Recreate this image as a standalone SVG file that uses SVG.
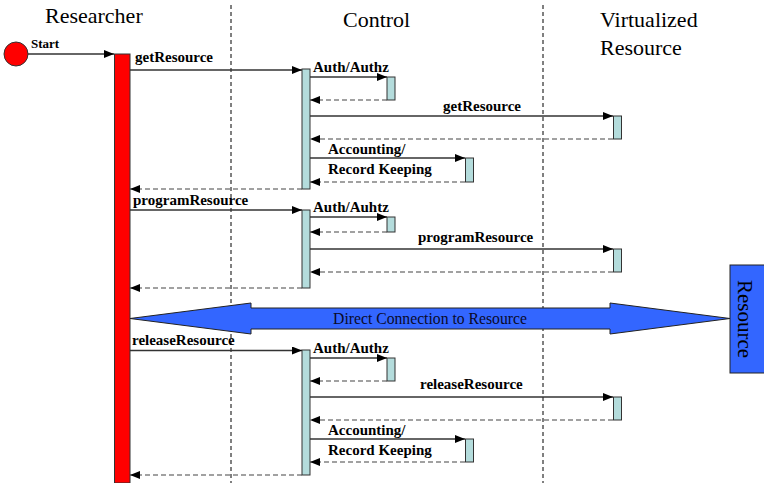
<svg xmlns="http://www.w3.org/2000/svg" width="764" height="483" viewBox="0 0 764 483">
<style>
.title{font-family:"Liberation Serif","Times New Roman",serif;font-size:22px;fill:#000}
.lbl{font-family:"Liberation Serif","Times New Roman",serif;font-size:15px;font-weight:bold;fill:#000}
.life{stroke:#000;stroke-width:1;stroke-dasharray:4,3;fill:none}
.call{stroke:#333;stroke-width:1.3;fill:none;marker-end:url(#ah)}
.ret{stroke:#444;stroke-width:1.2;stroke-dasharray:5,3;fill:none;marker-end:url(#ah)}
.act{fill:#b4dcdc;stroke:#333;stroke-width:1}
</style>
<defs>
<marker id="ah" viewBox="0 0 10 8" refX="10" refY="4" markerWidth="10" markerHeight="8" markerUnits="userSpaceOnUse" orient="auto">
<path d="M0,0 L10,4 L0,8 Z" fill="#000"/>
</marker>
</defs>
<rect width="764" height="483" fill="#fff"/>
<g id="lifelines">
<line class="life" x1="231" y1="5" x2="231" y2="483"/>
<line class="life" x1="543" y1="5" x2="543" y2="483"/>
</g>
<g id="researcher">
<text class="title" x="45" y="23">Researcher</text>
<rect x="114.5" y="54" width="15.5" height="429" fill="#ff0000" stroke="#333" stroke-width="1"/>
</g>
<g id="control">
<text class="title" x="343" y="27">Control</text>
</g>
<g id="virtualized">
<text class="title" x="600" y="27">Virtualized</text>
<text class="title" x="600" y="55">Resource</text>
</g>
<g id="start">
<circle cx="16" cy="54" r="12" fill="#ff0000" stroke="#333" stroke-width="1"/>
<text class="lbl" x="31" y="48" style="font-size:13px">Start</text>
</g>
<g id="activations">
<rect class="act" x="302" y="69" width="8" height="120"/>
<rect class="act" x="387" y="77" width="8" height="23"/>
<rect class="act" x="613.5" y="116" width="8" height="23"/>
<rect class="act" x="465.5" y="158" width="8" height="24"/>
<rect class="act" x="302" y="210" width="8" height="78"/>
<rect class="act" x="387" y="217" width="8" height="15"/>
<rect class="act" x="613.5" y="249" width="8" height="23"/>
<rect class="act" x="302" y="350" width="8" height="125"/>
<rect class="act" x="387" y="358" width="8" height="23"/>
<rect class="act" x="613.5" y="397" width="8" height="23"/>
<rect class="act" x="465.5" y="439" width="8" height="23"/>
</g>
<g id="resource-box">
<rect x="730" y="265" width="36" height="108" fill="#3366ff" stroke="#222" stroke-width="1"/>
<text transform="translate(738,319) rotate(90)" text-anchor="middle" style="font-family:'Liberation Serif','Times New Roman',serif;font-size:21px;fill:#000">Resource</text>
</g>
<g id="direct-connection">
<path d="M130,318.5 L251,303 L251,308 L610,308 L610,303 L730,318.5 L610,334 L610,329 L251,329 L251,334 Z" fill="#3366ff" stroke="#222" stroke-width="1"/>
<text x="430" y="324" text-anchor="middle" style="font-family:'Liberation Serif','Times New Roman',serif;font-size:15.7px;fill:#0a0a2a">Direct Connection to Resource</text>
</g>
<g id="connectors">
<line class="call" x1="28" y1="54" x2="114" y2="54"/>
<line class="call" x1="130" y1="70" x2="302" y2="70"/>
<line class="call" x1="310" y1="77" x2="387" y2="77"/>
<line class="ret" x1="387" y1="100" x2="310" y2="100"/>
<line class="call" x1="310" y1="116" x2="613" y2="116"/>
<line class="ret" x1="613" y1="139" x2="310" y2="139"/>
<line class="call" x1="310" y1="158" x2="465" y2="158"/>
<line class="ret" x1="465" y1="182" x2="310" y2="182"/>
<line class="ret" x1="302" y1="189" x2="130" y2="189"/>
<line class="call" x1="130" y1="210" x2="302" y2="210"/>
<line class="call" x1="310" y1="217" x2="387" y2="217"/>
<line class="ret" x1="387" y1="232" x2="310" y2="232"/>
<line class="call" x1="310" y1="249" x2="613" y2="249"/>
<line class="ret" x1="613" y1="272" x2="310" y2="272"/>
<line class="ret" x1="302" y1="288" x2="130" y2="288"/>
<line class="call" x1="130" y1="350.5" x2="302" y2="350.5"/>
<line class="call" x1="310" y1="358" x2="387" y2="358"/>
<line class="ret" x1="387" y1="381" x2="310" y2="381"/>
<line class="call" x1="310" y1="397" x2="613" y2="397"/>
<line class="ret" x1="613" y1="420" x2="310" y2="420"/>
<line class="call" x1="310" y1="439" x2="465" y2="439"/>
<line class="ret" x1="465" y1="462" x2="310" y2="462"/>
<line class="ret" x1="302" y1="475" x2="130" y2="475"/>
</g>
<g id="labels">
<text class="lbl" x="135" y="62">getResource</text>
<text class="lbl" x="313" y="72">Auth/Authz</text>
<text class="lbl" x="443" y="111">getResource</text>
<text class="lbl" x="328" y="154">Accounting/</text>
<text class="lbl" x="328" y="174">Record Keeping</text>
<text class="lbl" x="133" y="205">programResource</text>
<text class="lbl" x="313" y="212">Auth/Auhtz</text>
<text class="lbl" x="418" y="242">programResource</text>
<text class="lbl" x="132" y="345">releaseResource</text>
<text class="lbl" x="313" y="353">Auth/Authz</text>
<text class="lbl" x="420" y="389">releaseResource</text>
<text class="lbl" x="328" y="435">Accounting/</text>
<text class="lbl" x="328" y="455">Record Keeping</text>
</g>
</svg>
